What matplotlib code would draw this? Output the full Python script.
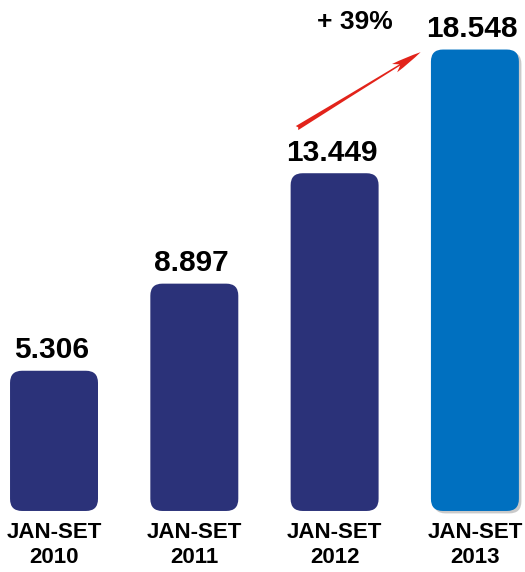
import matplotlib
matplotlib.use("Agg")
import matplotlib.pyplot as plt
from matplotlib.patches import FancyBboxPatch, FancyArrowPatch

categories = ["JAN-SET\n2010", "JAN-SET\n2011", "JAN-SET\n2012", "JAN-SET\n2013"]
values = [5.306, 8.897, 13.449, 18.548]
value_labels = ["5.306", "8.897", "13.449", "18.548"]
growth_label = "+ 39%"

plt.rcParams['font.family'] = ['Liberation Sans', 'DejaVu Sans']

fig = plt.figure(figsize=(5.25, 5.72), dpi=100)
ax = fig.add_axes([0, 0, 1, 1])
ax.set_xlim(-0.385, 3.357)
ax.set_ylim(-2.99, 20.59)
ax.axis('off')

base = -0.474  # axis minimum where bars start
navy = "#2B3279"
blue = "#0070C0"
colors = [navy, navy, navy, blue]
width = 0.627
rx = 0.0855
aspect = 0.495 / rx

for i, (v, c) in enumerate(zip(values, colors)):
    x0 = i - width / 2
    h = v - base
    if i == 3:
        sh = FancyBboxPatch((x0 + 0.018, base - 0.1), width, h,
                            boxstyle=f"round,pad=0,rounding_size={rx}",
                            mutation_aspect=aspect, fc="#8a8a8a", ec="none",
                            alpha=0.45, zorder=1)
        ax.add_patch(sh)
    p = FancyBboxPatch((x0, base), width, h,
                       boxstyle=f"round,pad=0,rounding_size={rx}",
                       mutation_aspect=aspect, fc=c, ec="none", zorder=2)
    ax.add_patch(p)
    ax.annotate(value_labels[i], (i - 0.02, v), xytext=(0, 9),
                textcoords="offset points", ha="center", va="baseline",
                fontsize=21.5, fontweight="bold", color="black")
    ax.text(i, -0.93, categories[i], ha="center", va="top",
            fontsize=16, fontweight="bold", linespacing=1.25)

arr = FancyArrowPatch((1.715, 15.25), (2.63, 18.5),
                      arrowstyle="fancy,head_length=22,head_width=7,tail_width=3.4",
                      color="#E2231A", lw=0, mutation_scale=1, zorder=3)
ax.add_patch(arr)
ax.text(2.145, 19.7, growth_label, ha="center", va="center",
        fontsize=19, fontweight="bold")

fig.savefig("out.png", dpi=100)
